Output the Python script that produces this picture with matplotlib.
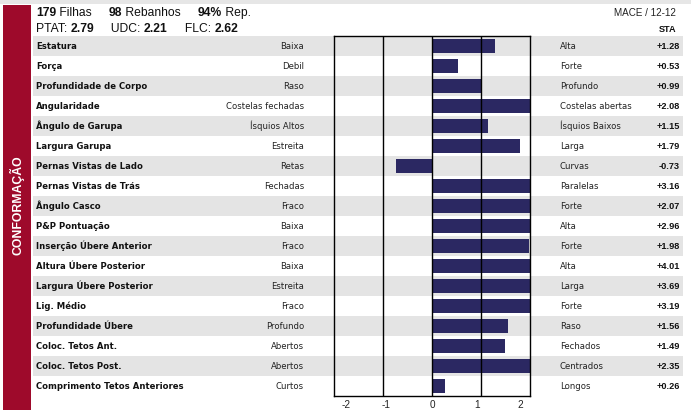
import matplotlib
matplotlib.use("Agg")
import matplotlib.pyplot as plt
from matplotlib.patches import Rectangle

plt.rcParams['font.family'] = ['Liberation Sans', 'DejaVu Sans']

traits = ["Estatura", "Força", "Profundidade de Corpo", "Angularidade", "Ângulo de Garupa",
          "Largura Garupa", "Pernas Vistas de Lado", "Pernas Vistas de Trás", "Ângulo Casco",
          "P&P Pontuação", "Inserção Úbere Anterior", "Altura Úbere Posterior",
          "Largura Úbere Posterior", "Lig. Médio", "Profundidade Úbere", "Coloc. Tetos Ant.",
          "Coloc. Tetos Post.", "Comprimento Tetos Anteriores"]
low_labels = ["Baixa", "Debil", "Raso", "Costelas fechadas", "Ísquios Altos", "Estreita",
              "Retas", "Fechadas", "Fraco", "Baixa", "Fraco", "Baixa", "Estreita", "Fraco",
              "Profundo", "Abertos", "Abertos", "Curtos"]
high_labels = ["Alta", "Forte", "Profundo", "Costelas abertas", "Ísquios Baixos", "Larga",
               "Curvas", "Paralelas", "Forte", "Alta", "Forte", "Alta", "Larga", "Forte",
               "Raso", "Fechados", "Centrados", "Longos"]
values = [1.28, 0.53, 0.99, 2.08, 1.15, 1.79, -0.73, 3.16, 2.07, 2.96, 1.98, 4.01, 3.69,
          3.19, 1.56, 1.49, 2.35, 0.26]
tick_values = [-2, -1, 0, 1, 2]
tick_labels = ["-2", "-1", "0", "1", "2"]

W, H = 691, 412
fig = plt.figure(figsize=(W / 100, H / 100), dpi=100)
fig.patch.set_facecolor("white")

bg = fig.add_axes([0, 0, 1, 1])
bg.set_xlim(0, W)
bg.set_ylim(H, 0)
bg.axis("off")

RED = "#9E0A2B"
GRAY = "#E4E4E4"
NAVY = "#2B2862"
row0, pitch = 46, 20
LBL = ["DejaVu Sans"]

bg.add_patch(Rectangle((0, 0), W, 3.5, color="#E6E6E6", lw=0))
bg.add_patch(Rectangle((3, 5), 28, 405, color=RED, lw=0))
bg.text(17, 205, "CONFORMAÇÃO", rotation=90, color="white", fontsize=8.8,
        fontweight="bold", ha="center", va="center")

for i, name in enumerate(traits):
    yc = row0 + pitch * i
    if i % 2 == 0:
        bg.add_patch(Rectangle((33, yc - 10), 650, 20, color=GRAY, lw=0))
    bg.text(36, yc + 3.2, name, fontsize=6.1, fontweight="bold", ha="left", va="baseline",
            color="#111111", family=LBL)
    bg.text(304, yc + 3.2, low_labels[i], fontsize=6.1, ha="right", va="baseline",
            color="#222222", family=LBL)
    bg.text(560, yc + 3.2, high_labels[i], fontsize=6.1, ha="left", va="baseline",
            color="#222222", family=LBL)
    bg.text(680, yc + 3.2, f"{values[i]:+.2f}", fontsize=6.6, fontweight="bold", ha="right",
            va="baseline", color="#111111")


def seg(x, y, parts, size=8.7):
    t = None
    for txt, bold in parts:
        w = "bold" if bold else "normal"
        if t is None:
            t = bg.annotate(txt, (x, y), fontsize=size, fontweight=w, ha="left",
                            va="baseline", color="#111111")
        else:
            t = bg.annotate(txt, xycoords=t, xy=(1, 0), va="bottom", fontsize=size,
                            fontweight=w, color="#111111")
    return t


seg(36, 16, [("179", True), (" Filhas     ", False), ("98", True), (" Rebanhos     ", False),
             ("94%", True), (" Rep.", False)])
seg(36, 32, [("PTAT: ", False), ("2.79", True), ("     UDC: ", False), ("2.21", True),
             ("     FLC: ", False), ("2.62", True)])
bg.text(676, 16, "MACE / 12-12", fontsize=7.1, ha="right", va="baseline", color="#222222")
bg.text(676, 32, "STA", fontsize=6.6, fontweight="bold", ha="right", va="baseline",
        color="#111111")

ax = fig.add_axes([334 / W, (H - 396) / H, 196 / W, 360 / H])
ax.patch.set_alpha(0)
ax.set_xlim(-2, 2)
ax.set_ylim(len(traits) - 0.5, -0.5)
ax.barh(range(len(traits)), values, height=0.74, color=NAVY, zorder=2)
for t in [-1, 0, 1]:
    ax.axvline(t, color="black", lw=1.0, zorder=3)
for s in ax.spines.values():
    s.set_color("black")
    s.set_linewidth(1.0)
ax.set_yticks([])
ax.set_xticks([])
# tick labels as drawn in the reference (slightly inset from the frame edges)
label_shift = [0.25, 0.07, 0.0, -0.08, -0.2]
for v, lab, d in zip(tick_values, tick_labels, label_shift):
    ax.text(v + d, -0.012, lab, transform=ax.get_xaxis_transform(), fontsize=7.2,
            ha="center", va="top", color="#222222")

fig.savefig("out.png", dpi=100)
